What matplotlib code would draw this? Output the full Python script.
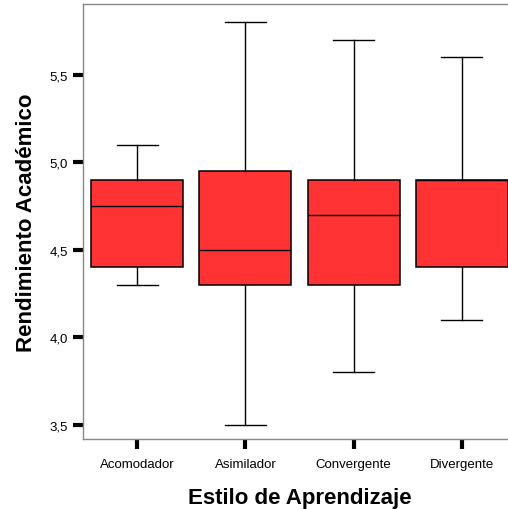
import matplotlib
matplotlib.use("Agg")
import matplotlib.pyplot as plt
from matplotlib.ticker import FuncFormatter

# ── DATA ──────────────────────────────────────────────────────────────────────
categories = ["Acomodador", "Asimilador", "Convergente", "Divergente"]
whislo = [4.3, 3.5, 3.8, 4.1]
q1     = [4.4, 4.3, 4.3, 4.4]
median = [4.75, 4.5, 4.7, 4.9]
q3     = [4.9, 4.95, 4.9, 4.9]
whishi = [5.1, 5.8, 5.7, 5.6]
yticks = [3.5, 4.0, 4.5, 5.0, 5.5]

# ── STYLE ─────────────────────────────────────────────────────────────────────
plt.rcParams["font.family"] = ["Liberation Sans", "DejaVu Sans"]
BOX_COLOR = "#ff3333"

stats = [
    {"label": c, "whislo": lo, "q1": a, "med": m, "q3": b, "whishi": hi, "fliers": []}
    for c, lo, a, m, b, hi in zip(categories, whislo, q1, median, q3, whishi)
]

fig = plt.figure(figsize=(5.08, 5.10), dpi=100)
ax = fig.add_axes([83 / 508, 1 - 440 / 510, 433 / 508, 435 / 510])

positions = list(range(1, len(categories) + 1))
ax.bxp(stats, positions=positions, widths=0.85, patch_artist=True,
       boxprops=dict(facecolor=BOX_COLOR, edgecolor="black", linewidth=1.1),
       medianprops=dict(color="black", linewidth=1.0),
       whiskerprops=dict(color="black", linewidth=1.0),
       capprops=dict(color="black", linewidth=1.0),
       capwidths=0.38)

ax.set_xlim(0.5, 4.5)
ax.set_ylim(3.42, 5.905)
ax.set_yticks(yticks)
ax.yaxis.set_major_formatter(FuncFormatter(lambda v, p: f"{v:.1f}".replace(".", ",")))
ax.set_xticks(positions)
ax.set_xticklabels(categories)

for s in ax.spines.values():
    s.set_color("#888888")
    s.set_linewidth(1.0)

ax.tick_params(axis="both", direction="out", length=7, width=3, color="black",
               labelsize=9.5, pad=4)
ax.tick_params(axis="x", pad=7)

ax.set_xlabel("Estilo de Aprendizaje", fontsize=16, fontweight="bold", labelpad=12)
ax.set_ylabel("Rendimiento Académico", fontsize=16, fontweight="bold", labelpad=9)

fig.savefig("out.png", dpi=100)
